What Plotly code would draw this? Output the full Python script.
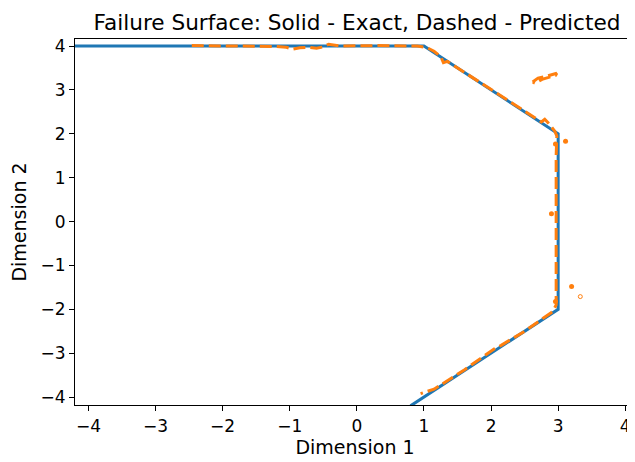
import plotly.graph_objects as go

# Exact failure surface (solid)
exact_x = [-4.2, 1.0, 3.0, 3.0, 0.8]
exact_y = [4.0, 4.0, 2.0, -2.0, -4.2]

# Predicted failure surface (dashed) - main contour
pred_x = [-2.46, -1.8, -1.2, -1.05, -0.95, -0.85, -0.7, -0.6, -0.5, -0.42, -0.35, -0.25, 0.3, 0.9, 1.05, 1.15,
          1.25, 1.29, 1.35, 1.5, 2.0, 2.6, 2.75, 2.8, 2.85, 2.95, 2.98, 2.97, 2.97, 2.97, 2.97, 2.92,
          2.5, 2.15, 2.05, 1.6, 1.15, 0.95]
pred_y = [4.01, 4.0, 3.99, 3.97, 3.93, 3.96, 3.97, 3.95, 3.98, 4.04, 4.03, 4.0, 4.01, 4.0, 3.96, 3.88,
          3.76, 3.62, 3.65, 3.5, 3.0, 2.4, 2.27, 2.33, 2.25, 2.06, 1.95, 1.5, 0.0, -1.5, -1.9, -2.05,
          -2.5, -2.82, -2.9, -3.38, -3.82, -3.92]

# Predicted: small spurious closed contour near (2.8, 3.3)
loop_x = [2.62, 2.7, 2.8, 2.9, 2.98, 2.96, 2.86, 2.76, 2.66, 2.62]
loop_y = [3.18, 3.27, 3.3, 3.34, 3.38, 3.33, 3.29, 3.24, 3.15, 3.18]

# Predicted: tiny spurious islands
dot_x = [3.11, 2.96, 2.90, 3.20, 2.96]
dot_y = [1.83, 1.77, 0.18, -1.48, -1.82]
ring_x = [3.33]
ring_y = [-1.71]

blue = "#1f77b4"
orange = "#ff7f0e"
font = "DejaVu Sans"

fig = go.Figure()
fig.add_trace(go.Scatter(x=exact_x, y=exact_y, mode="lines",
                         line=dict(color=blue, width=3), showlegend=False))
fig.add_trace(go.Scatter(x=pred_x, y=pred_y, mode="lines",
                         line=dict(color=orange, width=3, dash="12px,5px"), showlegend=False))
fig.add_trace(go.Scatter(x=loop_x, y=loop_y, mode="lines",
                         line=dict(color=orange, width=3, dash="12px,5px"), showlegend=False))
fig.add_trace(go.Scatter(x=dot_x, y=dot_y, mode="markers",
                         marker=dict(color=orange, size=5, line=dict(width=0)), showlegend=False))
fig.add_trace(go.Scatter(x=ring_x, y=ring_y, mode="markers",
                         marker=dict(color=orange, size=4, symbol="circle-open", line=dict(width=1)),
                         showlegend=False))

ticks = [-4, -3, -2, -1, 0, 1, 2, 3, 4]
ticktext = [str(t).replace("-", "\u2212") for t in ticks]

axis_common = dict(showgrid=False, zeroline=False, showline=True, linecolor="black", linewidth=1.2,
                   ticks="outside", ticklen=5, tickwidth=1.2, tickcolor="black", automargin=False,
                   tickfont=dict(family=font, size=17, color="black"),
                   tickvals=ticks, ticktext=ticktext)

# the page adds an 8px body margin, so the figure is sized to fill the rest of the window
W, H = 627, 454
fig.update_layout(
    width=W, height=H,
    margin=dict(l=67, r=0, t=31, b=57),
    plot_bgcolor="white", paper_bgcolor="white",
    title=dict(text="Failure Surface: Solid - Exact, Dashed - Predicted",
               font=dict(family=font, size=21.6, color="black"), automargin=False,
               x=349 / W, xanchor="center", y=1 - 14 / H, yanchor="middle", yref="container"),
    xaxis=dict(range=[-4.2, 4.145], mirror=True,
               title=dict(text="Dimension 1", font=dict(family=font, size=19, color="black"), standoff=6),
               **axis_common),
    yaxis=dict(range=[-4.18, 4.16], mirror=False,
               title=dict(text="Dimension 2", font=dict(family=font, size=19, color="black"), standoff=8),
               **axis_common),
)

fig.write_html("out.html")
